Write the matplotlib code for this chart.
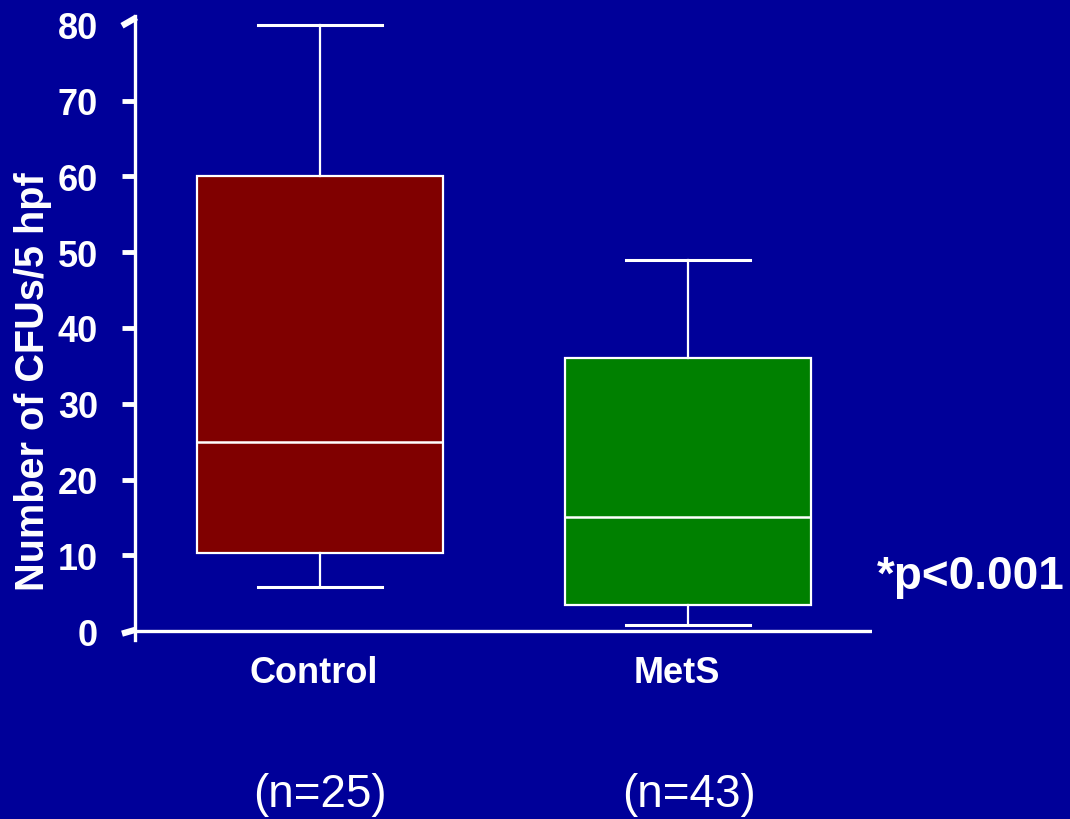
import matplotlib
matplotlib.use("Agg")
import matplotlib.pyplot as plt
from matplotlib.lines import Line2D

# Box-plot summaries (number of CFUs per 5 hpf)
groups = ["Control", "MetS"]
sample_sizes = ["(n=25)", "(n=43)"]
whisker_low = [5.8, 0.8]
quartile_1 = [10.3, 3.4]
medians = [25.0, 15.0]
quartile_3 = [60.0, 36.0]
whisker_high = [80.0, 49.0]
box_colors = ["#800000", "#008000"]
y_ticks = [0, 10, 20, 30, 40, 50, 60, 70, 80]
y_label = "Number of CFUs/5 hpf"
p_text = "*p<0.001"

BG = "#000099"
W, H = 1070, 820
plt.rcParams["font.family"] = ["Liberation Sans", "DejaVu Sans"]

fig = plt.figure(figsize=(W / 100, H / 100), dpi=100, facecolor=BG)
ax = fig.add_axes([135 / W, (H - 641.1) / H, 737 / W, (641.1 - 16.9) / H])
ax.set_facecolor(BG)

stats = []
for i, name in enumerate(groups):
    stats.append(dict(label=name, whislo=whisker_low[i], q1=quartile_1[i],
                      med=medians[i], q3=quartile_3[i], whishi=whisker_high[i],
                      fliers=[]))

positions = [1, 2]
bp = ax.bxp(stats, positions=positions, widths=0.668, capwidths=0.337,
            patch_artist=True, showfliers=False,
            boxprops=dict(edgecolor="white", linewidth=1.6),
            medianprops=dict(color="white", linewidth=1.8),
            whiskerprops=dict(color="white", linewidth=1.6),
            capprops=dict(color="white", linewidth=2.2))
for patch, c in zip(bp["boxes"], box_colors):
    patch.set_facecolor(c)

ax.set_xlim(0.4973, 2.5)
ax.set_ylim(-1.2, 81.2)

# Axis styling
for s in ["top", "right", "bottom"]:
    ax.spines[s].set_visible(False)
ax.spines["left"].set_color("white")
ax.spines["left"].set_linewidth(2.4)
ax.axhline(0, color="white", linewidth=2.4, xmin=0, xmax=1, zorder=1)

ax.set_xticks([])
ax.set_yticks(y_ticks)
ax.set_yticklabels([str(t) for t in y_ticks], fontsize=26, fontweight="bold",
                   color="white")
ax.tick_params(axis="y", direction="out", length=9.5, width=3.5,
               color="white", pad=17)
ticks = ax.yaxis.get_major_ticks()
ticks[0].tick1line.set_visible(False)
ticks[-1].tick1line.set_visible(False)

# Slanted end ticks at 0 and 80
tl = 13 / 737
blend = ax.get_yaxis_transform()
for (y0, y1) in [(-0.35, 0.2), (79.9, 81.0)]:
    ax.add_line(Line2D([-tl, 0.002], [y0, y1], transform=blend, color="white",
                       linewidth=4.5, solid_capstyle="butt", clip_on=False))

# Labels and annotations
def ftext(x, y, s, **kw):
    fig.text(x / W, 1 - y / H, s, color="white", ha="center", va="center", **kw)

ftext(314, 674, groups[0], fontsize=26, fontweight="bold")
ftext(677, 674, groups[1], fontsize=26, fontweight="bold")
ftext(320, 795, sample_sizes[0], fontsize=33)
ftext(689, 795, sample_sizes[1], fontsize=33)
ftext(971, 577, p_text, fontsize=33, fontweight="bold")
ftext(33, 382, y_label, fontsize=28.5, fontweight="bold", rotation=90)

fig.savefig("out.png", dpi=100, facecolor=BG)
